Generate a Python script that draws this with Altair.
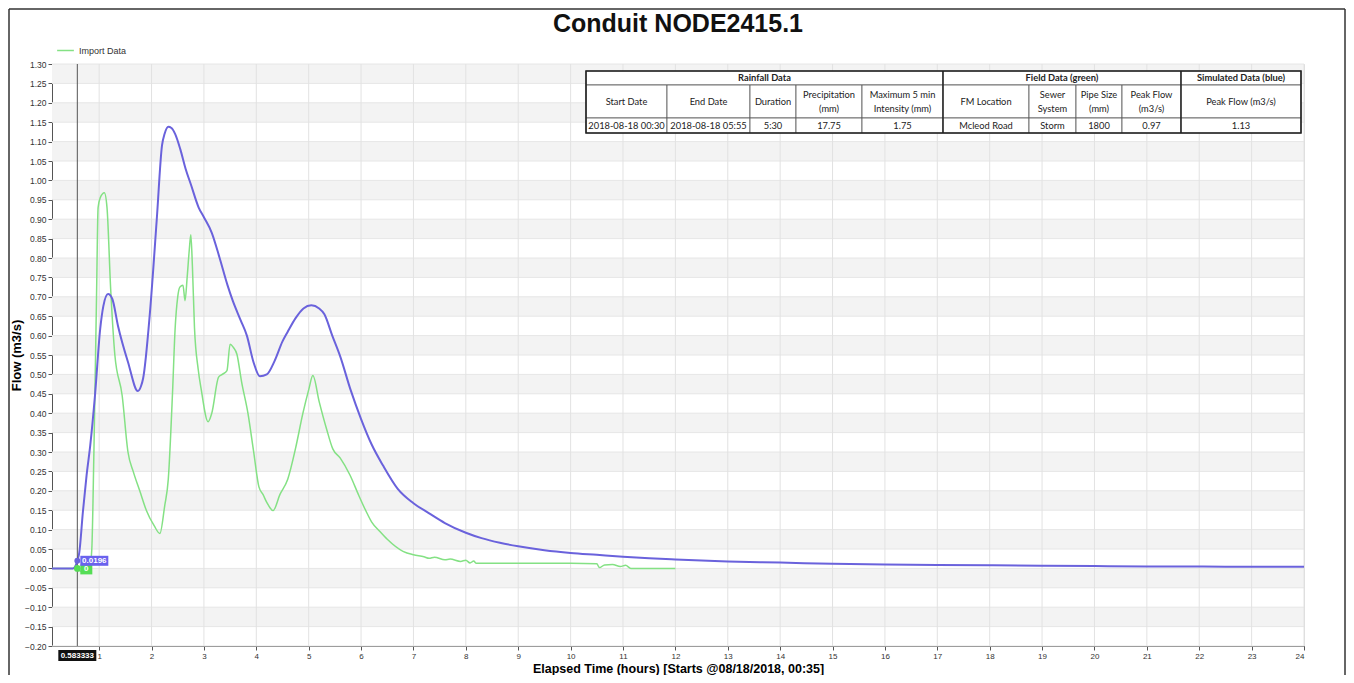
import altair as alt
import pandas as pd

# ---------------- data ----------------
TITLE = "Conduit NODE2415.1"
X_TITLE = "Elapsed Time (hours) [Starts @08/18/2018, 00:35]"
Y_TITLE = "Flow (m3/s)"
LEGEND_LABEL = "Import Data"

sim_hours = [0.1, 0.5, 0.583333, 0.62, 0.69, 0.76, 0.83, 0.92, 1.02, 1.08, 1.17, 1.25,
             1.36, 1.55, 1.74, 1.8, 1.84, 1.97, 2.1, 2.2, 2.25, 2.32, 2.38, 2.45, 2.55,
             2.65, 2.75, 2.9, 3.0, 3.15, 3.3, 3.45, 3.55, 3.7, 3.82, 3.95, 4.07, 4.2,
             4.35, 4.5, 4.6, 4.75, 4.9, 5.05, 5.2, 5.3, 5.45, 5.6, 5.8, 6.0, 6.2, 6.42,
             6.7, 7.0, 7.3, 7.6, 8.0, 8.3, 8.65, 9.0, 9.5, 10.0, 10.5, 11.0, 11.5, 12.0, 13.0,
             14.0, 15.0, 16.0, 17.0, 18.0, 19.0, 20.0, 21.0, 22.0, 23.0, 24.0]
sim_flow = [0.0, 0.0, 0.0196, 0.04, 0.146, 0.24, 0.317, 0.445, 0.617, 0.676, 0.707, 0.695,
            0.625, 0.532, 0.457, 0.47, 0.49, 0.66, 0.90, 1.09, 1.12, 1.138, 1.135, 1.12, 1.08,
            1.03, 0.99, 0.93, 0.905, 0.865, 0.80, 0.73, 0.69, 0.64, 0.60, 0.53, 0.495, 0.50,
            0.535, 0.585, 0.61, 0.645, 0.67, 0.678, 0.67, 0.655, 0.60, 0.547, 0.46, 0.385, 0.32, 0.265,
            0.205, 0.168, 0.142, 0.117, 0.092, 0.078, 0.066, 0.057, 0.047, 0.040, 0.035, 0.030, 0.026, 0.023, 0.018,
            0.015, 0.012, 0.010, 0.009, 0.008, 0.007, 0.006, 0.005, 0.005, 0.004, 0.004]

field_hours = [0.1, 0.5, 0.583333, 0.62, 0.7, 0.78, 0.82, 0.86, 0.9, 0.95, 0.98, 1.02, 1.1,
               1.15, 1.22, 1.3, 1.44, 1.55, 1.65, 1.78, 1.9, 2.05, 2.16, 2.25, 2.32, 2.4, 2.45,
               2.5, 2.54, 2.6, 2.64, 2.68, 2.72, 2.75, 2.78, 2.82, 2.89, 2.95, 3.08, 3.15, 3.28,
               3.35, 3.44, 3.5, 3.56, 3.63, 3.72, 3.84, 3.95, 4.05, 4.13, 4.2, 4.32, 4.45, 4.6,
               4.75, 4.89, 5.0, 5.08, 5.2, 5.34, 5.46, 5.6, 5.79, 5.95, 6.1, 6.2, 6.36, 6.5, 6.8,
               7.0, 7.2, 7.3, 7.4, 7.6, 7.7, 7.9, 8.0, 8.08, 8.15, 8.2, 9.0, 10.0, 10.5, 10.55,
               10.65, 10.8, 10.95, 11.05, 11.15, 12.0]
field_flow = [0.0, 0.0, 0.0, -0.005, -0.01, -0.005, 0.0, 0.05, 0.3, 0.7, 0.93, 0.955, 0.968,
              0.93, 0.72, 0.55, 0.445, 0.30, 0.25, 0.198, 0.15, 0.11, 0.09, 0.16, 0.23, 0.45, 0.617,
              0.70, 0.725, 0.73, 0.69, 0.75, 0.82, 0.86, 0.78, 0.62, 0.514, 0.46, 0.378, 0.40, 0.493,
              0.50, 0.51, 0.578, 0.57, 0.552, 0.48, 0.40, 0.30, 0.21, 0.19, 0.17, 0.149, 0.19, 0.23,
              0.31, 0.40, 0.46, 0.497, 0.43, 0.36, 0.308, 0.285, 0.24, 0.19, 0.146, 0.12, 0.095, 0.075, 0.044,
              0.035, 0.03, 0.026, 0.029, 0.022, 0.024, 0.018, 0.021, 0.014, 0.019, 0.013, 0.013, 0.013, 0.012, 0.002,
              0.009, 0.01, 0.005, 0.008, 0.0, 0.0]

cursor_hour = 0.583333
cursor_sim = 0.0196
cursor_field = 0.0

x_ticks = list(range(1, 25))
y_ticks = [round(-0.20 + 0.05 * i, 2) for i in range(31)]

table_groups = ["Rainfall Data", "Field  Data (green)", "Simulated Data (blue)"]
table_headers = ["Start Date", "End Date", "Duration", "Precipitation\n(mm)",
                 "Maximum 5 min\nIntensity (mm)", "FM Location", "Sewer\nSystem",
                 "Pipe Size\n(mm)", "Peak Flow\n(m3/s)", "Peak Flow  (m3/s)"]
table_values = ["2018-08-18 00:30", "2018-08-18 05:55", "5:30", "17.75", "1.75",
                "Mcleod Road", "Storm", "1800", "0.97", "1.13"]

# ---------------- layout / style ----------------
W, H = 1252, 582
GREEN = "#84e184"
BLUE = "#6a62dc"
FONT = "Liberation Sans"
TFONT = "Lato"
TFS = 9.3
LH = 14

col_edges = [534, 615, 698, 744, 810, 891, 977, 1024, 1070, 1129, 1249]
row_edges = [7, 21, 54, 69]
group_spans = [(0, 5), (5, 9), (9, 10)]

xscale = alt.Scale(domain=[0.1, 24], nice=False, zero=False)
yscale = alt.Scale(domain=[-0.2, 1.3], nice=False, zero=False)

X_AXIS = alt.Axis(
    values=x_ticks, format="d", title=X_TITLE, grid=False, labelFontSize=8, labelFont=FONT,
    labelColor="#333", tickSize=4, tickColor="#555", domainColor="#555", labelOverlap=False,
    titleFont=FONT, titleFontSize=12.5, titleFontWeight="bold", titleColor="#000",
    titleY=26, titleBaseline="alphabetic", labelPadding=2)
Y_AXIS = alt.Axis(
    values=y_ticks, format=".2f", title=Y_TITLE, grid=False, labelFontSize=8.5,
    labelFont=FONT, labelColor="#333", tickSize=4, tickColor="#555", domainColor="#555",
    labelOverlap=False, labelFlush=False,
    titleFont=FONT, titleFontSize=13, titleFontWeight="bold", titleColor="#000",
    titleX=-29, titleY=H / 2, titleAngle=270, titleAlign="center", titleBaseline="bottom",
    labelPadding=2)


def X(f):
    return alt.X(f, type="quantitative", scale=xscale, axis=X_AXIS)


def Y(f):
    return alt.Y(f, type="quantitative", scale=yscale, axis=Y_AXIS)


# ---------------- background bands & grid ----------------
band_df = pd.DataFrame({"lo": [v for v in y_ticks if round((v - 0.05) / 0.1, 6) % 1 == 0 and v < 1.3]})
band_df["hi"] = band_df["lo"] + 0.05
bands = alt.Chart(band_df).mark_rect(color="#f3f3f3").encode(
    y=Y("lo"), y2="hi", x=alt.value(0), x2=alt.value(W))

vgrid = alt.Chart(pd.DataFrame({"h": x_ticks})).mark_rule(color="#e2e2e2", strokeWidth=1).encode(
    x=X("h"), y=alt.value(0), y2=alt.value(H))
hgrid = alt.Chart(pd.DataFrame({"v": y_ticks})).mark_rule(color="#e6e6e6", strokeWidth=1).encode(
    y=Y("v"), x=alt.value(0), x2=alt.value(W))

# ---------------- series ----------------
field_df = pd.DataFrame({"h": field_hours, "q": field_flow, "s": LEGEND_LABEL})
sim_df = pd.DataFrame({"h": sim_hours, "q": sim_flow})

green_line = alt.Chart(field_df).mark_line(strokeWidth=1.5, interpolate="monotone").encode(
    x=X("h"), y=Y("q"),
    color=alt.Color("s:N", scale=alt.Scale(domain=[LEGEND_LABEL], range=[GREEN]),
                    legend=alt.Legend(title=None, orient="none", legendX=4, legendY=-23,
                                      symbolType="stroke", symbolSize=280, symbolStrokeWidth=1.5,
                                      labelFontSize=9, labelFont=FONT, labelColor="#333")))
blue_line = alt.Chart(sim_df).mark_line(strokeWidth=2, color=BLUE, interpolate="monotone").encode(
    x=X("h"), y=Y("q"))

# ---------------- cursor ----------------
cur = alt.Chart(pd.DataFrame({"h": [cursor_hour], "s": [cursor_sim], "f": [cursor_field],
                              "lab": [f"{cursor_hour:.6f}"], "slab": [f"{cursor_sim:.4f}"],
                              "flab": [f"{cursor_field:g}"]}))
cursor_rule = cur.mark_rule(color="#555", strokeWidth=1).encode(
    x=X("h"), y=alt.value(0), y2=alt.value(H))
cursor_box = cur.mark_rect(color="#111", xOffset=-19, x2Offset=19).encode(
    x=X("h"), x2="h:Q", y=alt.value(H + 4), y2=alt.value(H + 15))
cursor_txt = cur.mark_text(color="white", fontSize=8, fontWeight="bold", font=FONT).encode(
    x=X("h"), y=alt.value(H + 10), text="lab:N")

sim_box = cur.mark_rect(color="#6a62ee", xOffset=3, x2Offset=31, yOffset=-5, y2Offset=5).encode(
    x=X("h"), x2="h:Q", y=Y("s"), y2="s:Q")
sim_txt = cur.mark_text(color="white", fontSize=8, fontWeight="bold", font=FONT, dx=17).encode(
    x=X("h"), y=Y("s"), text="slab:N")
sim_pt = cur.mark_circle(color=BLUE, size=35, opacity=1).encode(x=X("h"), y=Y("s"))

fld_box = cur.mark_rect(color="#55dd55", xOffset=3, x2Offset=15, yOffset=-4, y2Offset=6).encode(
    x=X("h"), x2="h:Q", y=Y("f"), y2="f:Q")
fld_txt = cur.mark_text(color="white", fontSize=8, fontWeight="bold", font=FONT, dx=9, dy=1).encode(
    x=X("h"), y=Y("f"), text="flab:N")
fld_pt = cur.mark_circle(color="#55dd55", size=45, opacity=1).encode(x=X("h"), y=Y("f"))

main = alt.layer(bands, hgrid, vgrid, green_line, blue_line, cursor_rule,
                 fld_pt, fld_box, fld_txt, sim_pt, sim_box, sim_txt, cursor_box, cursor_txt)

# ---------------- table (pixel layout) ----------------
cells = []
texts = []
for (a, b), g in zip(group_spans, table_groups):
    cells.append({"x": col_edges[a], "x2": col_edges[b], "y": row_edges[0], "y2": row_edges[1]})
    texts.append({"x": (col_edges[a] + col_edges[b]) / 2, "y": (row_edges[0] + row_edges[1]) / 2,
                  "t": g, "w": "bold"})
for r, row in ((1, table_headers), (2, table_values)):
    for i, t in enumerate(row):
        n = t.count("\n") + 1
        cells.append({"x": col_edges[i], "x2": col_edges[i + 1], "y": row_edges[r], "y2": row_edges[r + 1]})
        texts.append({"x": (col_edges[i] + col_edges[i + 1]) / 2,
                      "y": (row_edges[r] + row_edges[r + 1]) / 2 - (n - 1) * LH / 2,
                      "t": t, "w": "normal"})
cell_df = pd.DataFrame(cells)
text_df = pd.DataFrame(texts)
outer_df = pd.DataFrame([{"x": col_edges[0], "x2": col_edges[-1], "y": row_edges[0], "y2": row_edges[-1]}])
div_df = pd.DataFrame({"x": [col_edges[a] for a, _ in group_spans[1:]]})

px = lambda f: alt.X(f, type="quantitative", scale=None, axis=None)
py = lambda f: alt.Y(f, type="quantitative", scale=None, axis=None)

t_cells = alt.Chart(cell_df).mark_rect(fill="white", stroke="#555", strokeWidth=0.8).encode(
    x=px("x"), x2="x2", y=py("y"), y2="y2")
t_outer = alt.Chart(outer_df).mark_rect(fill=None, stroke="#222", strokeWidth=1.6).encode(
    x=px("x"), x2="x2", y=py("y"), y2="y2")
t_div = alt.Chart(div_df).mark_rule(color="#222", strokeWidth=1.4).encode(
    x=px("x"), y=alt.value(row_edges[0]), y2=alt.value(row_edges[-1]))
t_text_b = alt.Chart(text_df[text_df.w == "bold"]).mark_text(
    font=TFONT, fontSize=TFS, fontWeight="bold", color="#222", baseline="middle").encode(
    x=px("x"), y=py("y"), text="t:N")
t_text_n = alt.Chart(text_df[text_df.w == "normal"]).mark_text(
    font=TFONT, fontSize=TFS, color="#222", baseline="middle", lineBreak="\n", lineHeight=LH).encode(
    x=px("x"), y=py("y"), text="t:N")

one = pd.DataFrame({"a": [0]})
title_mark = alt.Chart(one).mark_text(
    text=TITLE, font=FONT, fontSize=25, fontWeight="bold", color="#111",
    align="center", baseline="alphabetic").encode(x=alt.value(W / 2), y=alt.value(-32))

# frame around the whole picture
frame_l = alt.Chart(one).mark_rule(color="#333", strokeWidth=1.5).encode(
    x=alt.value(-43), y=alt.value(-55), y2=alt.value(H + 29))
frame_r = alt.Chart(one).mark_rule(color="#333", strokeWidth=1.5).encode(
    x=alt.value(W + 41), y=alt.value(-55), y2=alt.value(H + 29))
frame_t = alt.Chart(one).mark_rule(color="#333", strokeWidth=1.5).encode(
    y=alt.value(-55), x=alt.value(-43), x2=alt.value(W + 41))

table = alt.layer(t_cells, t_outer, t_div, t_text_b, t_text_n, title_mark, frame_l, frame_r, frame_t)

chart = alt.layer(main, table).resolve_scale(x="independent", y="independent").properties(
    width=W, height=H,
    padding={"left": 44, "top": 56, "right": 42, "bottom": 29},
    autosize=alt.AutoSizeParams(type="none"),
).configure_view(stroke=None).configure(background="white")

chart.save("out.html", embed_options={"renderer": "svg", "actions": False})
